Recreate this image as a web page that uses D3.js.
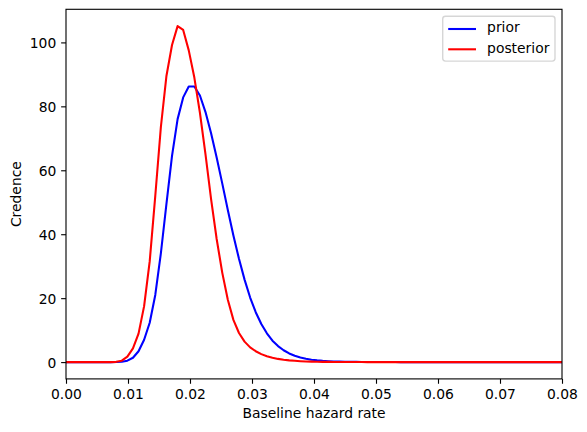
<!DOCTYPE html>
<head>
<meta charset="utf-8">
<style>
body { margin: 0; background: #fff; }
text { font-family: "DejaVu Sans", sans-serif; font-size: 13.89px; fill: #000; }
.curve { fill: none; stroke-width: 2.08px; stroke-linejoin: round; stroke-linecap: square; }
.tick line { stroke: #000; stroke-width: 1.11px; }
</style>
<title>Credence</title>
</head>
<body>
<script src="https://cdn.jsdelivr.net/npm/d3@7"></script>
<script>

// grid spacing of the hazard-rate samples
var step = 0.0009;

var prior = [
  0, 0, 0, 0, 0, 0, 0, 0, 0, 0.03,
  0.12, 0.45, 1.35, 3.4, 7, 12.3, 21, 34, 49.5, 64.5,
  76, 82.8, 86.2, 86.2, 83.4, 78.2, 71.6, 64, 55.9, 47.6,
  39.6, 32.3, 25.8, 20.2, 15.6, 11.9, 9, 6.7, 5, 3.7,
  2.7, 2, 1.45, 1.05, 0.76, 0.55, 0.4, 0.29, 0.21, 0.15,
  0.11, 0.08, 0.06, 0.04, 0.03, 0.02, 0.015, 0.01, 0.007, 0.005,
  0.003, 0.002, 0.001, 0.001, 0, 0, 0, 0, 0, 0,
  0, 0, 0, 0, 0, 0, 0, 0, 0, 0,
  0, 0, 0, 0, 0, 0, 0, 0, 0, 0
];

var posterior = [
  0, 0, 0, 0, 0, 0, 0, 0, 0, 0.08,
  0.45, 1.7, 4.3, 8.9, 17.5, 31.5, 52, 73.5, 89.5, 99.2,
  105.1, 103.9, 97.5, 89, 78, 65, 51, 38.5, 28, 19.5,
  13.2, 9.1, 6.4, 4.6, 3.4, 2.5, 1.85, 1.37, 1, 0.74,
  0.54, 0.4, 0.29, 0.21, 0.15, 0.11, 0.08, 0.06, 0.04, 0.03,
  0.02, 0.015, 0.01, 0.005, 0, 0, 0, 0, 0, 0,
  0, 0, 0, 0, 0, 0, 0, 0, 0, 0,
  0, 0, 0, 0, 0, 0, 0, 0, 0, 0,
  0, 0, 0, 0, 0, 0, 0, 0, 0, 0
];

var xTicks = [0, 0.01, 0.02, 0.03, 0.04, 0.05, 0.06, 0.07, 0.08];
var yTicks = [0, 20, 40, 60, 80, 100];

var series = [
  { name: "prior", color: "#0000ff", values: prior },
  { name: "posterior", color: "#ff0000", values: posterior }
];

var width = 587,
    height = 432;
var m = { left: 66, right: 562, top: 9.3, bottom: 378.9 };

var svg = d3.select("body").append("svg")
    .attr("width", width)
    .attr("height", height);

var x = d3.scaleLinear().domain([0, 0.08]).range([m.left, m.right]);
var ymax = d3.max(series, function(s) { return d3.max(s.values); });
var y = d3.scaleLinear().domain([-0.05 * ymax, 1.05 * ymax]).range([m.bottom, m.top]);

svg.append("clipPath").attr("id", "plot")
  .append("rect")
    .attr("x", m.left).attr("y", m.top)
    .attr("width", m.right - m.left).attr("height", m.bottom - m.top);

var line = d3.line()
    .x(function(d, i) { return x(i * step); })
    .y(function(d) { return y(d); });

svg.append("g").attr("clip-path", "url(#plot)")
  .selectAll("path")
    .data(series)
  .enter().append("path")
    .attr("class", "curve")
    .attr("stroke", function(d) { return d.color; })
    .attr("d", function(d) { return line(d.values); });

// axes
var xAxis = svg.append("g")
    .attr("transform", "translate(0," + m.bottom + ")")
    .call(d3.axisBottom(x).tickValues(xTicks).tickFormat(d3.format(".2f"))
      .tickSize(4.86).tickPadding(4.86));

var yAxis = svg.append("g")
    .attr("transform", "translate(" + m.left + ",0)")
    .call(d3.axisLeft(y).tickValues(yTicks).tickFormat(d3.format("d"))
      .tickSize(4.86).tickPadding(4.86));

svg.selectAll(".domain").remove();
svg.selectAll(".tick text")
    .attr("font-family", "DejaVu Sans")
    .attr("font-size", "13.89px")
    .attr("fill", "#000");
xAxis.selectAll(".tick text").attr("dy", null).attr("y", 20.2);
yAxis.selectAll(".tick text").attr("dy", null).attr("y", 5.25);

svg.append("rect")
    .attr("x", m.left).attr("y", m.top)
    .attr("width", m.right - m.left).attr("height", m.bottom - m.top)
    .attr("fill", "none")
    .attr("stroke", "#000")
    .attr("stroke-width", 1.11);

svg.append("text")
    .attr("x", (m.left + m.right) / 2)
    .attr("y", 418.1)
    .attr("text-anchor", "middle")
    .text("Baseline hazard rate");

svg.append("text")
    .attr("transform", "translate(21.3," + (m.top + m.bottom) / 2 + ")rotate(-90)")
    .attr("text-anchor", "middle")
    .text("Credence");

// legend
var legend = svg.append("g");

legend.append("rect")
    .attr("x", 442.7).attr("y", 16.2)
    .attr("width", 555 - 442.7).attr("height", 61.1 - 16.2)
    .attr("rx", 2.78)
    .attr("fill", "#fff").attr("fill-opacity", 0.8)
    .attr("stroke", "#cccccc").attr("stroke-opacity", 0.8)
    .attr("stroke-width", 1.39);

var item = legend.selectAll(".item")
    .data(series)
  .enter().append("g")
    .attr("class", "item")
    .attr("transform", function(d, i) { return "translate(0," + (i * 20.3) + ")"; });

item.append("line")
    .attr("x1", 448.2).attr("x2", 476)
    .attr("y1", 29).attr("y2", 29)
    .attr("stroke", function(d) { return d.color; })
    .attr("stroke-width", 2.08);

item.append("text")
    .attr("x", 487.1)
    .attr("y", 32.3)
    .text(function(d) { return d.name; });

</script>
</body>
